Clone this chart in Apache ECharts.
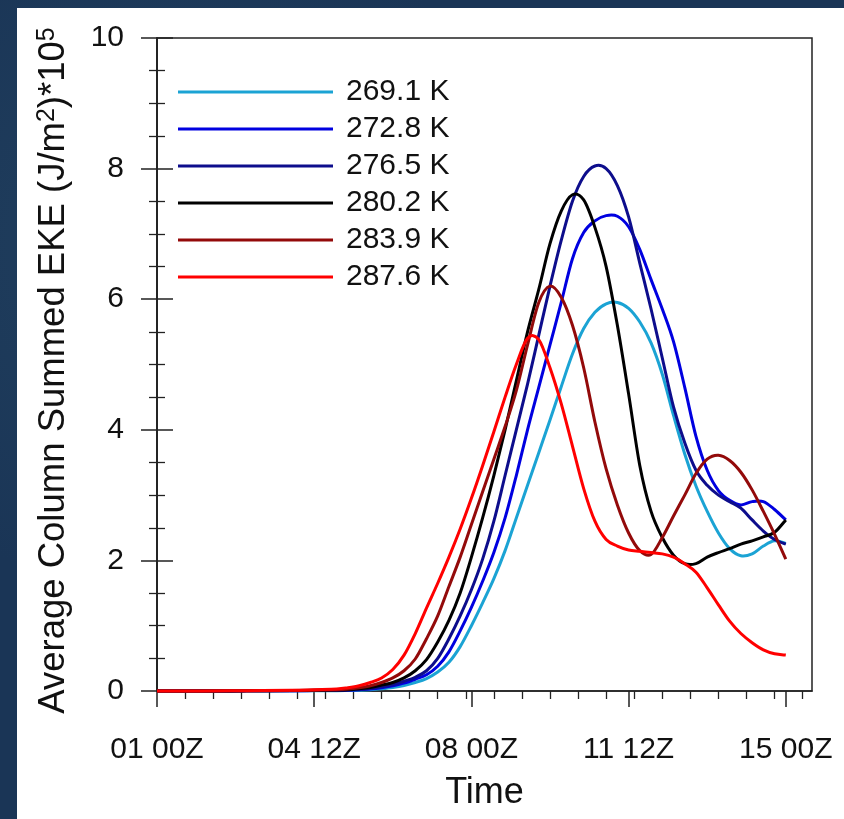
<!DOCTYPE html>
<html><head><meta charset="utf-8">
<script src="https://cdn.jsdelivr.net/npm/echarts@6/dist/echarts.min.js"></script>
<style>
html,body{margin:0;padding:0;width:844px;height:819px;overflow:hidden;}
body{background:#1a3556;background-image:radial-gradient(circle at 20% 30%,#21405f 0,#1a3556 40%),linear-gradient(180deg,#1c3859,#15304f);}
#chart{position:absolute;left:17px;top:8px;width:827px;height:811px;background:#fff;}
</style></head><body>
<div id="chart"></div>
<script>
// time in hours since 01 00Z
const hours = [0,24,48,72,84,96,102,108,114,120,126,132,138,144,150,156,162,168,174,180,186,192,198,204,210,216,222,228,234,240,246,252,258,264,270,276,282,288,294,300,306,312,318,324,330,336];
const k269 = [0,0,0.002,0.003,0.004,0.005,0.008,0.012,0.02,0.035,0.055,0.085,0.13,0.19,0.29,0.44,0.68,1.0,1.35,1.72,2.15,2.65,3.15,3.65,4.15,4.66,5.16,5.55,5.8,5.93,5.95,5.86,5.65,5.33,4.85,4.22,3.63,3.14,2.75,2.42,2.18,2.07,2.1,2.22,2.3,2.26];
const k272 = [0,0,0.002,0.004,0.006,0.008,0.012,0.02,0.03,0.05,0.08,0.12,0.18,0.25,0.38,0.6,0.92,1.28,1.68,2.12,2.65,3.3,4.0,4.65,5.3,5.95,6.62,7.02,7.2,7.28,7.27,7.11,6.76,6.3,5.85,5.35,4.65,3.9,3.38,3.07,2.92,2.85,2.9,2.9,2.78,2.62];
const k276 = [0,0,0.002,0.005,0.008,0.01,0.015,0.025,0.04,0.065,0.1,0.15,0.21,0.31,0.5,0.8,1.15,1.55,2.02,2.6,3.3,4.0,4.7,5.45,6.2,6.9,7.5,7.88,8.04,8.0,7.74,7.26,6.55,5.85,5.1,4.35,3.8,3.38,3.15,3.0,2.9,2.8,2.62,2.45,2.32,2.25];
const k280 = [0,0,0.003,0.006,0.01,0.015,0.02,0.035,0.055,0.09,0.13,0.2,0.31,0.48,0.75,1.08,1.5,2.05,2.65,3.3,4.0,4.75,5.5,6.15,6.85,7.35,7.6,7.52,7.1,6.5,5.6,4.55,3.45,2.75,2.35,2.08,1.95,1.95,2.05,2.12,2.18,2.25,2.3,2.36,2.43,2.62];
const k283 = [0,0,0.004,0.008,0.012,0.02,0.03,0.05,0.08,0.13,0.2,0.31,0.49,0.8,1.15,1.6,2.05,2.55,3.05,3.55,4.05,4.6,5.3,5.95,6.2,6.03,5.6,4.95,4.12,3.4,2.85,2.42,2.15,2.09,2.35,2.68,3.0,3.33,3.55,3.61,3.53,3.35,3.08,2.75,2.4,2.02];
const k287 = [0,0,0.005,0.01,0.02,0.03,0.05,0.08,0.13,0.2,0.33,0.55,0.88,1.27,1.65,2.05,2.48,2.95,3.45,3.97,4.5,5.0,5.4,5.38,4.95,4.4,3.75,3.1,2.6,2.32,2.22,2.16,2.14,2.12,2.10,2.05,1.95,1.82,1.58,1.32,1.07,0.88,0.74,0.63,0.57,0.55];

const seriesNames = ['269.1 K','272.8 K','276.5 K','280.2 K','283.9 K','287.6 K'];
const seriesValues = [k269,k272,k276,k280,k283,k287];
const seriesColors = ['#1ba3d4','#0000e0','#0d0d8c','#000000','#930a0a','#ff0000'];

const xTickValues = [0,84,168,252,336];
const xTickLabels = ['01 00Z','04 12Z','08 00Z','11 12Z','15 00Z'];
const xMinorValues = [15,30,45,60,75,90,105,120,135,150,165,180,195,210,225,240,255,270,285,300,315,330,345];

const FONT = "'Liberation Sans', Arial, Helvetica, sans-serif";
const axisColor = '#222';

// Catmull-Rom spline through pixel points obtained from the axes
function splinePath(pts) {
  let d = 'M' + pts[0][0] + ',' + pts[0][1];
  for (let i = 0; i < pts.length - 1; i++) {
    const p0 = pts[i - 1] || pts[i], p1 = pts[i], p2 = pts[i + 1], p3 = pts[i + 2] || pts[i + 1];
    const c1x = p1[0] + (p2[0] - p0[0]) / 6, c1y = p1[1] + (p2[1] - p0[1]) / 6;
    const c2x = p2[0] - (p3[0] - p1[0]) / 6, c2y = p2[1] - (p3[1] - p1[1]) / 6;
    d += ' C' + c1x + ',' + c1y + ' ' + c2x + ',' + c2y + ' ' + p2[0] + ',' + p2[1];
  }
  return d;
}

const chart = echarts.init(document.getElementById('chart'));
const baseX = {type:'value', min:0, max:350, gridIndex:0, position:'bottom', splitLine:{show:false}};
chart.setOption({
  animation:false,
  backgroundColor:'#fff',
  grid:{left:140, right:32, top:30, bottom:128, show:true, borderColor:axisColor, borderWidth:1.5, backgroundColor:'transparent'},
  legend:{
    orient:'vertical', left:156, top:64, itemWidth:155, itemHeight:3, itemGap:7, icon:'rect',
    data:seriesNames,
    formatter: n => '{g| }' + n,
    textStyle:{fontSize:30, fontFamily:FONT, color:'#111', lineHeight:30, rich:{g:{width:8}}}
  },
  xAxis:[
    Object.assign({}, baseX, {
      name:'Time', nameLocation:'middle', nameGap:84,
      nameTextStyle:{fontSize:36, fontFamily:FONT, color:'#111'},
      axisLine:{show:true, lineStyle:{color:axisColor, width:1.5}},
      axisTick:{show:true, inside:false, length:16, customValues:xTickValues, lineStyle:{color:axisColor, width:1.5}},
      axisLabel:{customValues:xTickValues, margin:44, fontSize:30, fontFamily:FONT, color:'#111',
        formatter: v => { const i = xTickValues.indexOf(v); return i >= 0 ? xTickLabels[i] : ''; }}
    }),
    Object.assign({}, baseX, {
      axisLine:{show:false},
      axisTick:{show:true, inside:false, length:8, customValues:xMinorValues, lineStyle:{color:axisColor, width:1.3}},
      axisLabel:{show:false}
    })
  ],
  yAxis:[
    {type:'value', min:0, max:10, interval:2, position:'left',
      name:'Average Column Summed EKE (J/m{s|2})*10{s|5}', nameLocation:'middle', nameGap:85,
      nameTextStyle:{fontSize:36.5, fontFamily:FONT, color:'#111', padding:[0,12,0,0], rich:{s:{fontSize:25, fontFamily:FONT, color:'#111', verticalAlign:'top'}}},
      axisLine:{show:true, lineStyle:{color:axisColor, width:1.5}},
      axisTick:{show:true, inside:false, length:16, lineStyle:{color:axisColor, width:1.5}},
      minorTick:{show:true, splitNumber:4, length:8, lineStyle:{color:axisColor, width:1.3}},
      axisLabel:{margin:33, fontSize:30, fontFamily:FONT, color:'#111'},
      splitLine:{show:false}, minorSplitLine:{show:false}
    },
    {type:'value', min:0, max:10, interval:2, position:'right',
      axisLine:{show:true, lineStyle:{color:axisColor, width:1.5}},
      axisTick:{show:true, inside:false, length:16, lineStyle:{color:axisColor, width:1.5}},
      minorTick:{show:true, splitNumber:4, length:8, lineStyle:{color:axisColor, width:1.3}},
      axisLabel:{show:false},
      splitLine:{show:false}, minorSplitLine:{show:false}
    }
  ],
  series: seriesNames.map((name, si) => ({
    name, type:'custom', coordinateSystem:'cartesian2d', xAxisIndex:0, yAxisIndex:0,
    data: hours.map((h, i) => [h, seriesValues[si][i]]),
    itemStyle:{color: seriesColors[si]},
    renderItem: (params, api) => {
      if (params.dataIndex !== 0) return null;
      const pts = hours.map((h, i) => api.coord([h, seriesValues[si][i]]));
      return {type:'path', shape:{pathData: splinePath(pts)},
        style:{fill:'none', stroke: seriesColors[si], lineWidth:3, lineJoin:'round'}};
    }
  }))
});
</script>
</body></html>
